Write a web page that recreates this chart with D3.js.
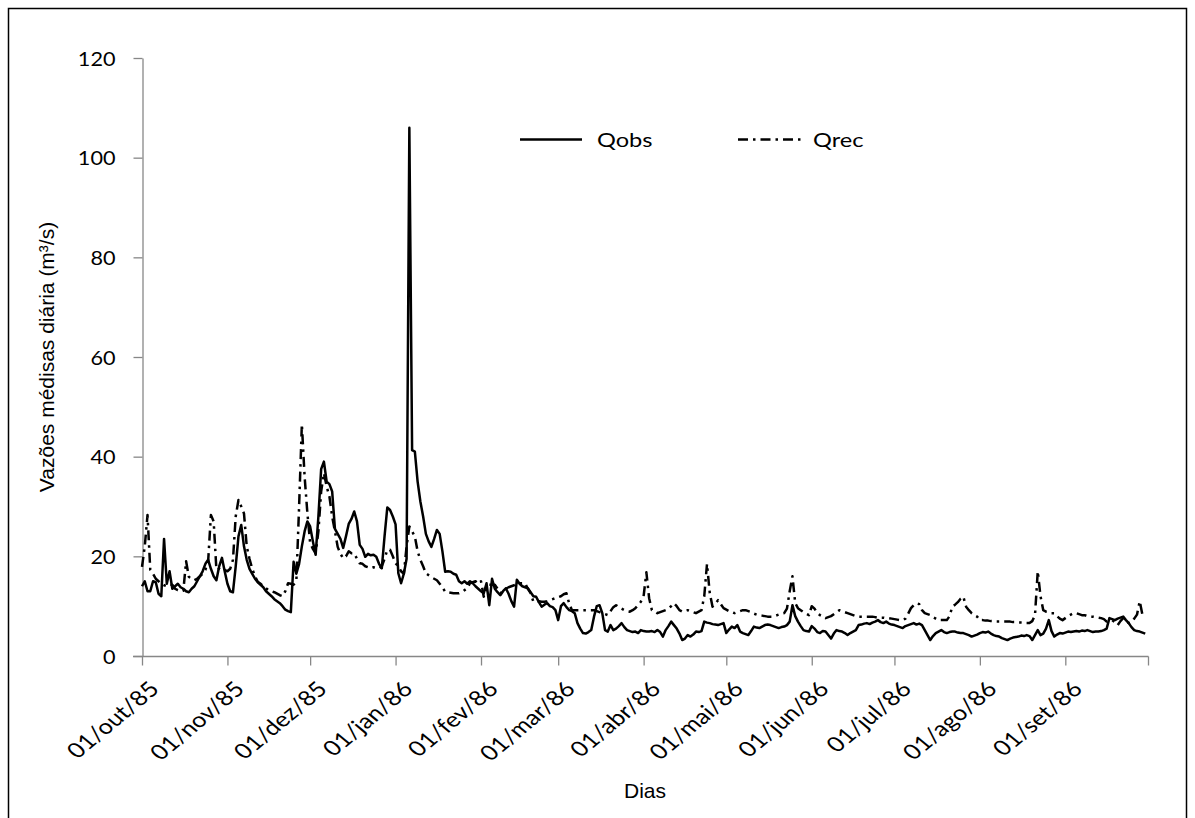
<!DOCTYPE html>
<html>
<head>
<meta charset="utf-8">
<script src="https://cdn.jsdelivr.net/npm/d3@7"></script>
<style>
  html, body { margin: 0; padding: 0; background: #fff; }
  svg { display: block; }
</style>
</head>
<body>
<svg id="chart" width="1195" height="818"></svg>
<script>
// ---------- DATA ----------
const startDate = "1985-10-01";
const endDate = "1986-10-01";
const seriesNames = ["Qobs", "Qrec"];
const yTicks = [0, 20, 40, 60, 80, 100, 120];
const monthLabels = ["01/out/85","01/nov/85","01/dez/85","01/jan/86","01/fev/86","01/mar/86",
                     "01/abr/86","01/mai/86","01/jun/86","01/jul/86","01/ago/86","01/set/86"];
const xTitle = "Dias";
const yTitle = "Vazões médisas diária (m³/s)";

// Observed daily flow (m3/s), 01/out/85 .. 30/set/86
const qobs = [
  // out
  14.0,15.0,13.0,13.0,15.0,14.8,12.5,12.0,23.5,14.5,17.0,13.5,14.0,14.5,13.8,13.5,13.0,12.8,13.5,14.0,15.0,16.0,17.0,18.5,19.3,17.5,16.0,15.2,18.0,19.7,17.0,
  // nov
  14.5,13.0,12.8,18.0,24.0,26.3,22.0,19.3,17.5,16.5,15.5,14.8,14.3,13.8,13.0,12.5,12.0,11.4,11.0,10.6,10.0,9.3,9.0,8.8,18.9,16.5,18.5,22.0,25.0,27.0,
  // dez
  26.0,23.0,20.3,28.0,37.5,39.0,35.0,34.5,33.0,25.5,24.5,23.5,21.7,24.0,26.5,27.5,29.0,27.0,22.3,21.5,19.9,20.5,20.2,20.3,19.9,18.5,17.6,24.0,29.8,29.3,28.0,
  // jan
  26.4,16.6,14.6,16.5,19.5,106.0,41.3,41.0,35.0,31.0,28.0,24.5,23.0,21.9,23.5,25.3,24.5,21.0,16.9,17.0,16.9,16.5,16.3,15.0,14.6,15.0,14.5,15.0,14.6,14.0,13.5,
  // fev
  13.0,12.6,14.6,10.2,15.5,13.5,12.8,12.2,13.0,13.6,12.5,11.0,9.9,15.3,14.5,14.0,13.8,13.6,12.8,12.0,11.9,10.8,9.9,10.3,10.6,10.0,9.8,9.2,
  // mar
  7.2,10.0,10.6,9.8,9.2,9.0,8.6,6.6,5.5,4.6,4.5,4.8,5.2,7.9,10.0,10.2,8.6,5.2,4.9,6.2,5.2,5.5,6.0,6.6,5.8,5.2,5.0,4.8,4.9,4.6,5.2,
  // abr
  5.0,4.9,4.9,5.0,4.8,5.2,4.8,3.9,5.2,6.0,6.9,6.2,5.5,4.5,3.2,3.5,4.2,3.9,4.3,4.9,4.8,5.0,6.9,6.7,6.6,6.4,6.3,6.2,6.4,6.6,
  // mai
  4.6,5.3,5.9,5.6,6.2,4.9,4.6,4.4,4.2,5.0,5.9,5.7,5.6,5.9,6.2,6.3,6.2,6.0,5.8,5.6,5.8,5.9,6.2,6.9,10.2,8.0,6.9,6.0,5.2,5.0,4.9,
  // jun
  6.0,5.5,4.8,4.6,5.0,4.9,4.2,3.5,4.5,5.2,5.0,4.9,4.6,4.2,4.6,4.9,5.2,6.2,6.3,6.5,6.6,6.4,6.7,6.9,7.2,6.8,6.6,6.9,6.5,6.3,
  // jul
  6.2,6.0,5.8,5.6,6.0,6.2,6.4,6.6,6.3,6.5,6.2,5.2,4.2,3.2,4.0,4.6,4.9,5.2,4.8,4.6,4.8,4.9,4.9,4.7,4.6,4.6,4.4,4.2,3.9,4.1,4.3,
  // ago
  4.6,4.8,4.7,4.9,4.5,4.2,4.0,3.9,3.6,3.4,3.2,3.5,3.7,3.8,3.9,4.1,4.0,4.2,4.0,3.2,4.2,5.2,4.2,4.5,5.5,7.2,5.0,3.9,4.3,4.6,4.5,
  // set
  4.7,4.9,4.8,4.9,5.0,4.9,5.1,5.0,5.2,5.0,4.8,4.9,4.9,5.0,5.2,5.5,7.6,7.4,7.2,7.5,7.7,7.9,7.2,6.6,5.8,5.2,5.0,4.9,4.7,4.5
];

// Reconstructed daily flow (m3/s)
const qrec = [
  // out
  17.9,22.0,28.3,17.3,16.5,15.5,15.0,14.5,14.2,14.0,14.3,14.3,13.5,13.2,13.0,13.1,19.0,15.9,15.5,15.2,15.5,16.0,16.5,17.3,19.0,28.3,27.0,17.3,17.5,17.0,17.3,
  // nov
  17.0,17.5,19.3,28.0,31.3,30.0,28.6,22.0,19.5,17.5,16.0,14.9,14.5,14.0,13.6,13.2,13.0,12.8,12.5,12.2,12.0,13.0,14.6,14.5,14.3,15.0,30.0,46.5,36.0,28.7,
  // dez
  22.7,21.5,20.6,25.0,33.0,36.7,34.0,32.0,28.0,25.0,21.9,20.5,19.6,20.0,21.0,20.6,20.6,19.5,18.6,18.5,18.0,17.8,17.6,17.8,17.6,17.6,18.0,19.5,21.3,21.3,20.0,
  // jan
  18.6,18.0,17.0,16.5,22.0,26.0,25.0,24.0,21.0,19.3,18.0,16.6,16.2,15.8,15.5,15.2,14.5,13.8,12.9,12.8,12.7,12.6,12.6,12.6,12.8,13.2,13.6,14.6,14.8,15.0,14.5,
  // fev
  15.0,11.9,13.5,14.3,14.3,14.3,13.5,12.6,13.0,13.5,13.8,14.0,14.2,14.4,14.6,14.6,14.6,13.5,12.6,10.9,11.0,11.0,10.9,10.9,11.0,11.2,11.4,11.6,
  // mar
  11.8,12.0,12.4,12.6,10.5,9.2,9.2,9.2,9.2,9.2,9.2,9.2,9.2,9.2,9.0,8.8,8.6,8.4,8.2,9.0,9.8,10.2,9.8,9.5,9.2,9.0,8.9,9.2,9.6,10.2,10.9,
  // abr
  12.0,16.8,11.6,9.2,9.0,8.6,8.8,9.0,9.2,9.6,10.0,10.6,10.0,9.2,8.9,9.0,9.2,9.0,8.8,8.6,8.9,9.2,12.0,18.5,12.6,9.9,10.5,11.2,10.4,9.6,
  // mai
  9.3,9.0,8.8,8.6,8.8,9.0,9.2,9.2,9.0,8.8,8.5,8.3,8.2,8.1,8.0,7.9,7.9,7.9,8.1,8.3,8.5,8.6,9.5,13.0,16.0,10.6,9.6,9.2,8.8,8.5,8.2,
  // jun
  10.0,9.5,8.6,8.2,7.9,7.6,7.8,8.0,8.4,8.8,9.2,9.0,8.8,8.6,8.4,8.2,8.0,7.9,7.9,7.9,7.9,7.9,7.9,7.8,7.8,7.7,7.7,7.6,7.6,7.5,
  // jul
  7.4,7.3,7.2,7.2,7.5,8.5,9.6,10.2,10.6,10.4,9.2,8.6,8.4,8.2,7.8,7.5,7.2,7.2,7.2,7.2,8.0,9.9,10.3,10.8,11.5,11.9,9.9,9.2,8.6,8.2,7.9,
  // ago
  7.2,7.2,7.1,7.1,7.0,7.0,6.9,6.9,6.9,6.9,6.9,6.9,6.8,6.8,6.7,6.7,6.6,6.6,6.6,7.0,8.2,17.0,12.0,9.2,8.9,8.8,8.6,8.6,8.0,7.5,7.2,
  // set
  7.6,8.0,8.3,8.6,8.6,8.4,8.2,8.2,8.0,7.9,7.9,7.8,7.7,7.6,7.4,6.9,7.0,7.2,6.8,6.2,7.0,7.6,7.2,6.6,6.8,7.5,8.3,11.0,8.2,8.3
];

// ---------- DRAW ----------
const svg = d3.select("#chart");
const sxY = 1.17;   // horizontal stretch of the original figure's tick text
const sxX = 1.2;    // stretch of the rotated date labels
const sxL = 1.18;   // legend text stretch
const axisColor = "#878787";
const labelFont = "Lato, 'Open Sans', sans-serif";
const titleFont = "'Liberation Sans', Arial, sans-serif";

const t0 = new Date(startDate + "T00:00:00Z");
const t1 = new Date(endDate + "T00:00:00Z");
const dates = qobs.map((_, i) => d3.utcDay.offset(t0, i));

const x = d3.scaleUtc().domain([t0, t1]).range([142, 1148]);
const y = d3.scaleLinear().domain([0, 120]).range([656, 58]);

// outer frame
svg.append("rect")
  .attr("x", 8.5).attr("y", 8.5).attr("width", 1178).attr("height", 830)
  .attr("fill", "none").attr("stroke", "#000").attr("stroke-width", 1.5);

// Y axis
const yAxis = svg.append("g").attr("transform", "translate(142.5,0)")
  .call(d3.axisLeft(y).tickValues(yTicks).tickSize(9).tickSizeOuter(0).tickFormat(d3.format("d")));
yAxis.select(".domain").attr("stroke", axisColor).attr("stroke-width", 1.3);
yAxis.selectAll(".tick line").attr("stroke", axisColor).attr("stroke-width", 1.3);
yAxis.selectAll(".tick text")
  .attr("x", null).attr("dy", null)
  .attr("transform", "translate(-27,7) scale(" + sxY + ",1)")
  .attr("text-anchor", "end")
  .attr("font-family", labelFont).attr("font-size", 18.5).attr("fill", "#000");

// X axis
const monthTicks = d3.utcMonth.range(t0, d3.utcDay.offset(t1, 1));
const xAxis = svg.append("g").attr("transform", "translate(0,656.5)")
  .call(d3.axisBottom(x).tickValues(monthTicks).tickSize(9).tickSizeOuter(0)
        .tickFormat((d, i) => monthLabels[i] || ""));
xAxis.select(".domain").attr("stroke", axisColor).attr("stroke-width", 1.3)
  .attr("d", "M133,0H1148.5");
xAxis.selectAll(".tick line").attr("stroke", axisColor).attr("stroke-width", 1.3);
xAxis.selectAll(".tick text")
  .attr("y", null).attr("dy", null)
  .attr("transform", "translate(18,34) scale(" + sxX + ",1) rotate(-45)")
  .attr("text-anchor", "end")
  .attr("font-family", labelFont).attr("font-size", 21).attr("fill", "#000");

// lines
const line = d3.line().x((d, i) => x(dates[i])).y(d => y(d)).curve(d3.curveLinear);

svg.append("path").datum(qrec)
  .attr("d", line).attr("fill", "none").attr("stroke", "#000")
  .attr("stroke-width", 2.5).attr("stroke-dasharray", "10,5,2.5,5").attr("stroke-linejoin", "round");

svg.append("path").datum(qobs)
  .attr("d", line).attr("fill", "none").attr("stroke", "#000")
  .attr("stroke-width", 2.5).attr("stroke-linejoin", "round");

// axis titles
svg.append("text").attr("x", 645).attr("y", 798).attr("text-anchor", "middle")
  .attr("font-family", titleFont).attr("font-size", 21).text(xTitle);
svg.append("text").attr("transform", "translate(54,357) rotate(-90)").attr("text-anchor", "middle")
  .attr("font-family", titleFont).attr("font-size", 21).text(yTitle);

// legend
const legend = [
  { name: seriesNames[0], x1: 520, x2: 582, tx: 597, dash: null },
  { name: seriesNames[1], x1: 738, x2: 802, tx: 813, dash: "10,5,2.5,5" }
];
legend.forEach(l => {
  svg.append("line").attr("x1", l.x1).attr("x2", l.x2).attr("y1", 139.5).attr("y2", 139.5)
    .attr("stroke", "#000").attr("stroke-width", 2.5).attr("stroke-dasharray", l.dash);
  svg.append("text").attr("transform", "translate(" + l.tx + ",147) scale(" + sxL + ",1)")
    .attr("font-family", labelFont).attr("font-size", 20).text(l.name);
});
</script>
</body>
</html>
